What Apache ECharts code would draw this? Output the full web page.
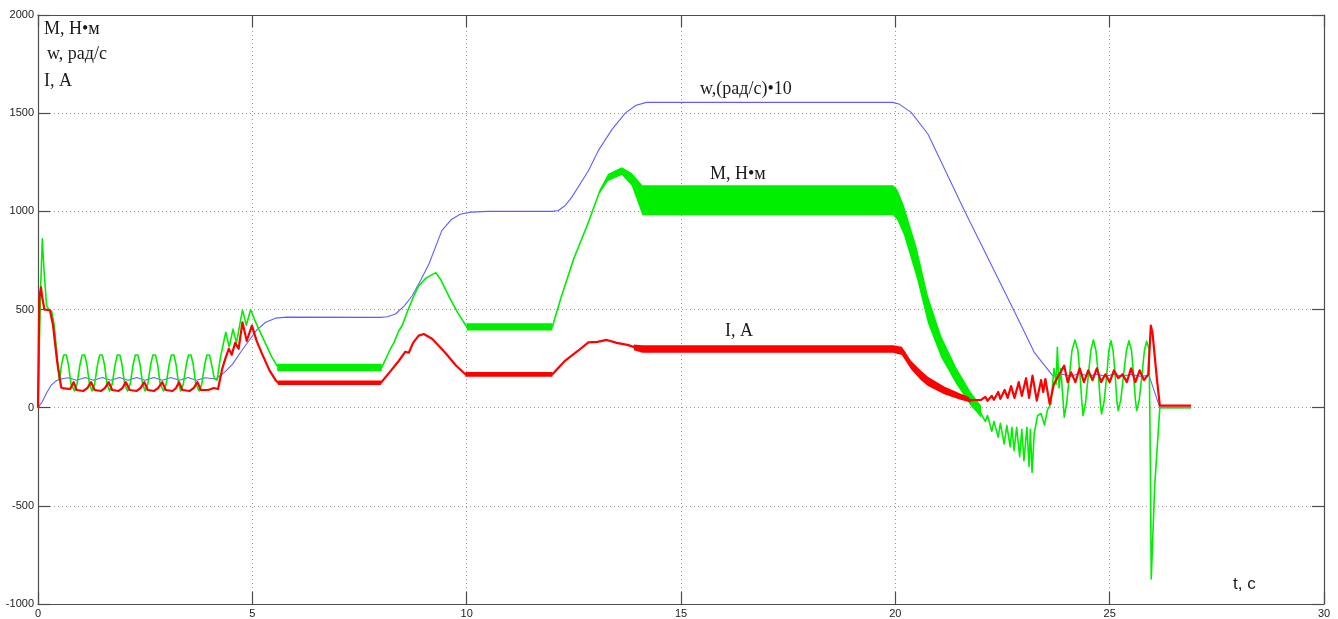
<!DOCTYPE html>
<html>
<head>
<meta charset="utf-8">
<script src="https://cdn.jsdelivr.net/npm/echarts@6/dist/echarts.min.js"></script>
<style>
  html, body { margin: 0; padding: 0; background: #ffffff; }
  #chart { width: 1338px; height: 619px; }
</style>
</head>
<body>
<div id="chart"></div>
<script>
// Axis ticks
const timeTicks = [0, 5, 10, 15, 20, 25, 30];
const valueTicks = [-1000, -500, 0, 500, 1000, 1500, 2000];

// Speed w, (rad/s)*10 : [t, value]
const speed = [
  [0, 0], [0.1, 30], [0.2, 75], [0.3, 112], [0.4, 133], [0.5, 145], [0.7, 152], [0.9, 140],
  [1.1, 154], [1.3, 140], [1.5, 154], [1.7, 140], [1.9, 154], [2.1, 140], [2.3, 154], [2.5, 140],
  [2.7, 154], [2.9, 140], [3.1, 154], [3.3, 140], [3.5, 154], [3.7, 140], [3.9, 152], [4.15, 146],
  [4.35, 180], [4.54, 222], [4.75, 290], [4.92, 341], [5.1, 395], [5.31, 435], [5.54, 456],
  [5.8, 461], [8.0, 460], [8.15, 463], [8.34, 477], [8.55, 520], [8.73, 570], [8.93, 650],
  [9.12, 732], [9.42, 902], [9.65, 960], [9.85, 985], [10.1, 996], [10.5, 1000], [12.0, 1000],
  [12.14, 1004], [12.3, 1030], [12.45, 1071], [12.84, 1207], [13.07, 1309], [13.4, 1420],
  [13.7, 1500], [13.95, 1540], [14.2, 1555], [19.94, 1555], [20.1, 1545], [20.37, 1504],
  [20.76, 1394], [21.61, 1004], [22.77, 494], [23.24, 282], [23.67, 163], [23.9, 170],
  [24.1, 160], [24.3, 175], [24.5, 160], [24.7, 170], [24.9, 160], [25.1, 170], [25.3, 160],
  [25.5, 170], [25.7, 160], [25.92, 163], [26.17, 0], [26.9, 0]
];

// Torque M, N*m : [t, value]
const torque = [
  [0, 0], [0.03, 0], [0.06, 600], [0.1, 860], [0.14, 700], [0.2, 520], [0.25, 500], [0.32, 490],
  [0.38, 420], [0.45, 250], [0.5, 140],
  [0.55, 220], [0.6, 268], [0.63, 275], [0.66, 268], [0.71, 220], [0.77, 120], [0.85, 85],
  [0.91, 120], [0.98, 220], [1.03, 268], [1.06, 275], [1.09, 268], [1.14, 220], [1.2, 120], [1.26, 85],
  [1.32, 120], [1.39, 220], [1.44, 268], [1.47, 275], [1.5, 268], [1.55, 220], [1.61, 120], [1.67, 85],
  [1.73, 120], [1.8, 220], [1.85, 268], [1.88, 275], [1.91, 268], [1.96, 220], [2.02, 120], [2.09, 85],
  [2.15, 120], [2.22, 220], [2.27, 268], [2.3, 275], [2.33, 268], [2.38, 220], [2.44, 120], [2.5, 85],
  [2.56, 120], [2.63, 220], [2.68, 268], [2.71, 275], [2.74, 268], [2.79, 220], [2.85, 120], [2.93, 85],
  [2.99, 120], [3.06, 220], [3.11, 268], [3.14, 275], [3.17, 268], [3.22, 220], [3.28, 120], [3.33, 85],
  [3.39, 120], [3.46, 220], [3.51, 268], [3.54, 275], [3.57, 268], [3.62, 220], [3.68, 120], [3.76, 85],
  [3.82, 120], [3.89, 220], [3.94, 268], [3.97, 275], [4.0, 268], [4.05, 220], [4.11, 150],
  [4.18, 140], [4.25, 250], [4.38, 384], [4.46, 310], [4.55, 400], [4.63, 330], [4.77, 498],
  [4.86, 420], [4.96, 500], [5.05, 450], [5.15, 400], [5.3, 330], [5.45, 260], [5.58, 212],
  [8.02, 205], [8.2, 290], [8.3, 330], [8.42, 392], [8.5, 420], [8.6, 480], [8.75, 560],
  [8.88, 620], [9.05, 660], [9.28, 688], [9.4, 650], [9.6, 560], [9.8, 480], [10.0, 412],
  [12.0, 412], [12.2, 560], [12.5, 760], [12.84, 944], [13.1, 1100], [13.31, 1175],
  [13.62, 1205], [13.85, 1160], [14.05, 1055], [19.95, 1055], [20.2, 955], [20.5, 735],
  [20.76, 500], [21.07, 310], [21.42, 165], [21.76, 45], [22.0, -30], [22.1, -70], [22.15, -40],
  [22.25, -120], [22.3, -70], [22.4, -150], [22.45, -80], [22.54, -185], [22.6, -90],
  [22.68, -200], [22.72, -100], [22.77, -219], [22.83, -100], [22.9, -250], [22.95, -110],
  [23.0, -270], [23.07, -100], [23.12, -300], [23.15, -110], [23.19, -330], [23.24, -130],
  [23.32, -40], [23.4, -30], [23.48, -88], [23.55, -10], [23.63, 19], [23.7, 200], [23.75, 120],
  [23.78, 307], [23.82, 100], [23.86, 200],
  [23.94, -49], [24.0, 30], [24.06, 160], [24.12, 290], [24.19, 345], [24.26, 290], [24.31, 160],
  [24.35, 30], [24.38, -41], [24.44, 30], [24.5, 160], [24.56, 290], [24.62, 345], [24.68, 290],
  [24.74, 160], [24.78, 30], [24.81, -32], [24.87, 30], [24.93, 160], [24.98, 290], [25.03, 341],
  [25.08, 290], [25.13, 160], [25.17, 30], [25.2, -15], [25.26, 40], [25.32, 160], [25.39, 290],
  [25.45, 341], [25.51, 290], [25.56, 160], [25.6, 40], [25.63, -15], [25.69, 40], [25.75, 160],
  [25.81, 290], [25.86, 338], [25.92, 300], [25.95, -300], [25.97, -873], [26.05, -400],
  [26.17, 0], [26.9, 0]
];

// Current I, A : [t, value]
const current = [
  [0, 0], [0.02, 0], [0.03, 560], [0.07, 613], [0.1, 560], [0.15, 500], [0.28, 495],
  [0.35, 420], [0.45, 230], [0.54, 103], [0.6, 98], [0.75, 95], [0.83, 130], [0.9, 90],
  [1.06, 85], [1.15, 100], [1.24, 130], [1.32, 90], [1.47, 85], [1.56, 100], [1.65, 130],
  [1.73, 90], [1.88, 85], [1.97, 100], [2.05, 130], [2.14, 90], [2.3, 85], [2.39, 100],
  [2.48, 130], [2.56, 90], [2.71, 85], [2.8, 100], [2.9, 130], [2.98, 90], [3.14, 85],
  [3.22, 100], [3.29, 130], [3.37, 90], [3.54, 85], [3.63, 100], [3.72, 130], [3.8, 90],
  [3.97, 90], [4.1, 100], [4.2, 95], [4.3, 200], [4.38, 256], [4.45, 300], [4.52, 270],
  [4.6, 330], [4.68, 300], [4.77, 435], [4.87, 340], [4.99, 418], [5.1, 340], [5.23, 273],
  [5.4, 190], [5.55, 138], [5.6, 127], [8.0, 127], [8.2, 180], [8.42, 239], [8.57, 285],
  [8.65, 280], [8.75, 330], [8.88, 367], [9.0, 375], [9.2, 350], [9.5, 280], [9.75, 215],
  [9.97, 170], [12.0, 170], [12.3, 240], [12.6, 290], [12.84, 333], [13.05, 335],
  [13.27, 345], [13.5, 330], [13.75, 320], [13.93, 307], [14.1, 299], [20.0, 299],
  [20.2, 285], [20.37, 214], [20.6, 160], [20.76, 132], [21.14, 88], [21.5, 58], [21.76, 38],
  [22.0, 40], [22.1, 55], [22.15, 35], [22.25, 60], [22.3, 40], [22.4, 80], [22.45, 45],
  [22.55, 90], [22.62, 50], [22.7, 110], [22.78, 50], [22.88, 130], [22.95, 60], [23.05, 150],
  [23.12, 50], [23.2, 163], [23.3, 36], [23.4, 140], [23.45, 80], [23.5, 146], [23.6, 19],
  [23.7, 120], [23.8, 160], [23.94, 214], [24.02, 130], [24.1, 180], [24.2, 130], [24.3, 200],
  [24.4, 130], [24.5, 190], [24.6, 140], [24.7, 200], [24.8, 130], [24.9, 170], [25.0, 130],
  [25.1, 190], [25.2, 150], [25.3, 170], [25.4, 130], [25.5, 200], [25.6, 130], [25.7, 190],
  [25.8, 140], [25.9, 170], [25.94, 160], [25.96, 418], [26.0, 380], [26.1, 150],
  [26.17, 10], [26.9, 10]
];

// Ripple envelopes of the torque trace: [t, lower, upper]
const torqueBandA = [[5.58, 186, 224], [8.02, 186, 224]];
const torqueBandB = [[10.0, 393, 430], [12.0, 393, 430]];
const torqueBandC = [
  [13.1, 1090, 1110], [13.3, 1155, 1192], [13.62, 1185, 1225], [13.85, 1130, 1195],
  [14.1, 980, 1133], [19.95, 980, 1133], [20.05, 955, 1110], [20.2, 880, 1030],
  [20.5, 660, 815], [20.76, 430, 570], [21.07, 255, 365], [21.42, 120, 205],
  [21.76, 10, 80], [22.0, -50, 10]
];

// Ripple envelopes of the current trace: [t, lower, upper]
const currentBandA = [[5.6, 115, 138], [8.0, 115, 138]];
const currentBandB = [[9.97, 158, 182], [12.0, 158, 182]];
const currentBandC = [
  [13.9, 292, 322], [14.1, 280, 318], [19.95, 280, 318], [20.15, 268, 310],
  [20.37, 195, 238], [20.6, 140, 188], [20.76, 110, 158], [21.14, 68, 108],
  [21.5, 42, 74], [21.76, 26, 50]
];

const GREEN = '#00ee00';
const RED = '#ff0000';
const BLUE = '#5f5fff';

function trace(name, data, color, width) {
  return {
    name: name, type: 'line', data: data, showSymbol: false, symbol: 'none',
    xAxisIndex: 0, yAxisIndex: 0, animation: false, silent: true,
    lineStyle: { color: color, width: width, join: 'round' }
  };
}

// Filled ripple band drawn as one polygon through the axis scales
function band(rows, color) {
  return {
    type: 'custom', coordinateSystem: 'cartesian2d', xAxisIndex: 0, yAxisIndex: 0,
    clip: true, silent: true, animation: false,
    data: rows,
    encode: { x: 0, y: [1, 2] },
    renderItem: function (params, api) {
      if (params.dataIndex !== 0) return null;
      const upper = rows.map(function (r) { return api.coord([r[0], r[2]]); });
      const lower = rows.slice().reverse().map(function (r) { return api.coord([r[0], r[1]]); });
      return { type: 'polygon', shape: { points: upper.concat(lower) }, style: { fill: color } };
    }
  };
}

const AXIS_COLOR = '#4d4d4d';
const labelFont = { fontFamily: 'Liberation Sans', fontSize: 11, color: '#222' };
const serif = 'Liberation Serif';

function plain(v) { return String(v); }

function xAx(pos, showLabel) {
  return {
    type: 'value', position: pos, min: timeTicks[0], max: timeTicks[timeTicks.length - 1],
    interval: 5,
    axisLine: { show: true, onZero: false, lineStyle: { color: AXIS_COLOR, width: 1.2 } },
    axisTick: { show: true, inside: true, length: 12, lineStyle: { color: AXIS_COLOR, width: 1.2 } },
    axisLabel: Object.assign({ show: showLabel, margin: 4, formatter: plain }, labelFont),
    splitLine: { show: showLabel, lineStyle: { color: '#9a9a9a', type: [1, 3], width: 1 } }
  };
}
function yAx(pos, showLabel) {
  return {
    type: 'value', position: pos, min: valueTicks[0], max: valueTicks[valueTicks.length - 1],
    interval: 500,
    axisLine: { show: true, onZero: false, lineStyle: { color: AXIS_COLOR, width: 1.2 } },
    axisTick: { show: true, inside: true, length: 12, lineStyle: { color: AXIS_COLOR, width: 1.2 } },
    axisLabel: Object.assign({ show: showLabel, margin: 4, formatter: plain }, labelFont),
    splitLine: { show: showLabel, lineStyle: { color: '#9a9a9a', type: [1, 3], width: 1 } }
  };
}

function note(text, left, top, font, size) {
  return {
    type: 'text', left: left, top: top, silent: true,
    style: { text: text, fontFamily: font, fontSize: size, fill: '#1a1a1a' }
  };
}

const chart = echarts.init(document.getElementById('chart'), null, { renderer: 'canvas' });
chart.setOption({
  backgroundColor: '#ffffff',
  animation: false,
  grid: { left: 38, right: 14, top: 15, bottom: 15, containLabel: false },
  xAxis: [xAx('bottom', true), xAx('top', false)],
  yAxis: [yAx('left', true), yAx('right', false)],
  series: [
    trace('w', speed, BLUE, 1.1),
    trace('M', torque, GREEN, 1.6),
    band(torqueBandA, GREEN),
    band(torqueBandB, GREEN),
    band(torqueBandC, GREEN),
    trace('I', current, RED, 2.2),
    band(currentBandA, RED),
    band(currentBandB, RED),
    band(currentBandC, RED)
  ],
  graphic: [
    note('М, Н•м', 44, 20, serif, 18),
    note('w, рад/с', 47, 45, serif, 18),
    note('I, A', 44, 72, serif, 18),
    note('w,(рад/с)•10', 700, 80, serif, 18),
    note('М, Н•м', 710, 165, serif, 18),
    note('I, A', 725, 322, serif, 18),
    note('t, c', 1233, 576, 'Liberation Sans', 17)
  ]
});
</script>
</body>
</html>
